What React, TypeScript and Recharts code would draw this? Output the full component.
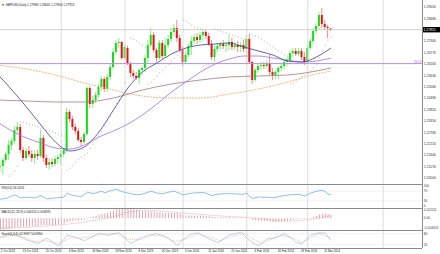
import { Bar, ComposedChart, Line, ReferenceLine, XAxis, YAxis } from "recharts";

// GBPUSD daily, bar 0 = 2 Oct 2023 ... bar 115 = 13 Mar 2024
const opens = [
  1.2190, 1.2105, 1.2110, 1.2140, 1.2170, 1.2215, 1.2235, 1.2290, 1.2305, 1.2190,
  1.2150, 1.2185, 1.2170, 1.2150, 1.2170, 1.2160, 1.2250, 1.2150, 1.2115, 1.2130,
  1.2120, 1.2145, 1.2155, 1.2170, 1.2190, 1.2380, 1.2345, 1.2305, 1.2285, 1.2240,
  1.2230, 1.2270, 1.2500, 1.2420, 1.2440, 1.2465, 1.2505, 1.2545, 1.2495, 1.2555,
  1.2605, 1.2680, 1.2725, 1.2730, 1.2650, 1.2700, 1.2620, 1.2575, 1.2560, 1.2550,
  1.2590, 1.2600, 1.2650, 1.2715, 1.2765, 1.2690, 1.2650, 1.2725, 1.2660, 1.2715,
  1.2745, 1.2780, 1.2800, 1.2750, 1.2690, 1.2630, 1.2665, 1.2710, 1.2735, 1.2755,
  1.2740, 1.2765, 1.2780, 1.2760, 1.2720, 1.2655, 1.2695, 1.2710, 1.2720, 1.2710,
  1.2715, 1.2730, 1.2705, 1.2715, 1.2705, 1.2715, 1.2695, 1.2745, 1.2630, 1.2540,
  1.2590, 1.2610, 1.2615, 1.2610, 1.2625, 1.2580, 1.2565, 1.2580, 1.2600, 1.2610,
  1.2630, 1.2640, 1.2675, 1.2685, 1.2670, 1.2685, 1.2655, 1.2630, 1.2700, 1.2735,
  1.2785, 1.2810, 1.2865, 1.2820, 1.2805, 1.27968,
];
const highs = [
  1.2200, 1.2125, 1.2150, 1.2180, 1.2240, 1.2250, 1.2310, 1.2330, 1.2320, 1.2205,
  1.2200, 1.2210, 1.2190, 1.2190, 1.2190, 1.2290, 1.2265, 1.2165, 1.2150, 1.2150,
  1.2160, 1.2165, 1.2190, 1.2200, 1.2400, 1.2390, 1.2360, 1.2320, 1.2300, 1.2255,
  1.2280, 1.2510, 1.2510, 1.2460, 1.2480, 1.2520, 1.2560, 1.2555, 1.2570, 1.2620,
  1.2700, 1.2740, 1.2750, 1.2735, 1.2715, 1.2710, 1.2630, 1.2590, 1.2580, 1.2600,
  1.2610, 1.2665, 1.2740, 1.2800, 1.2780, 1.2700, 1.2740, 1.2740, 1.2750, 1.2765,
  1.2800, 1.2820, 1.2840, 1.2765, 1.2710, 1.2680, 1.2720, 1.2760, 1.2770, 1.2775,
  1.2780, 1.2795, 1.2790, 1.2775, 1.2740, 1.2710, 1.2725, 1.2730, 1.2740, 1.2730,
  1.2765, 1.2750, 1.2730, 1.2735, 1.2730, 1.2740, 1.2765, 1.2770, 1.2635, 1.2600,
  1.2625, 1.2630, 1.2630, 1.2640, 1.2665, 1.2600, 1.2590, 1.2610, 1.2620, 1.2640,
  1.2655, 1.2690, 1.2700, 1.2700, 1.2700, 1.2700, 1.2680, 1.2715, 1.2750, 1.2800,
  1.2825, 1.2880, 1.2900, 1.2840, 1.2815, 1.28005,
];
const lows = [
  1.2100, 1.2080, 1.2065, 1.2125, 1.2140, 1.2190, 1.2220, 1.2270, 1.2175, 1.2135,
  1.2140, 1.2155, 1.2130, 1.2120, 1.2140, 1.2150, 1.2130, 1.2100, 1.2090, 1.2105,
  1.2110, 1.2120, 1.2115, 1.2155, 1.2180, 1.2330, 1.2290, 1.2270, 1.2230, 1.2210,
  1.2220, 1.2260, 1.2400, 1.2400, 1.2425, 1.2450, 1.2490, 1.2480, 1.2480, 1.2540,
  1.2595, 1.2665, 1.2700, 1.2640, 1.2640, 1.2615, 1.2555, 1.2545, 1.2540, 1.2520,
  1.2560, 1.2580, 1.2620, 1.2705, 1.2680, 1.2630, 1.2640, 1.2645, 1.2650, 1.2700,
  1.2730, 1.2760, 1.2730, 1.2680, 1.2610, 1.2620, 1.2655, 1.2665, 1.2720, 1.2720,
  1.2725, 1.2735, 1.2745, 1.2710, 1.2640, 1.2630, 1.2680, 1.2690, 1.2695, 1.2680,
  1.2690, 1.2690, 1.2690, 1.2680, 1.2680, 1.2680, 1.2670, 1.2620, 1.2520, 1.2530,
  1.2575, 1.2590, 1.2595, 1.2600, 1.2565, 1.2540, 1.2545, 1.2545, 1.2585, 1.2595,
  1.2610, 1.2620, 1.2655, 1.2660, 1.2660, 1.2640, 1.2615, 1.2620, 1.2690, 1.2720,
  1.2770, 1.2795, 1.2800, 1.2790, 1.2750, 1.27856,
];
const closes = [
  1.2105, 1.2110, 1.2140, 1.2170, 1.2215, 1.2235, 1.2290, 1.2305, 1.2190, 1.2150,
  1.2185, 1.2170, 1.2150, 1.2170, 1.2160, 1.2250, 1.2150, 1.2115, 1.2130, 1.2120,
  1.2145, 1.2155, 1.2170, 1.2190, 1.2380, 1.2345, 1.2305, 1.2285, 1.2240, 1.2230,
  1.2270, 1.2500, 1.2420, 1.2440, 1.2465, 1.2505, 1.2545, 1.2495, 1.2555, 1.2605,
  1.2680, 1.2725, 1.2730, 1.2650, 1.2705, 1.2625, 1.2575, 1.2560, 1.2550, 1.2590,
  1.2600, 1.2650, 1.2715, 1.2765, 1.2690, 1.2650, 1.2725, 1.2660, 1.2715, 1.2745,
  1.2780, 1.2800, 1.2750, 1.2690, 1.2630, 1.2665, 1.2710, 1.2735, 1.2755, 1.2740,
  1.2765, 1.2780, 1.2760, 1.2720, 1.2655, 1.2695, 1.2710, 1.2720, 1.2710, 1.2715,
  1.2730, 1.2705, 1.2715, 1.2705, 1.2715, 1.2695, 1.2745, 1.2630, 1.2540, 1.2590,
  1.2610, 1.2615, 1.2610, 1.2625, 1.2580, 1.2565, 1.2580, 1.2600, 1.2610, 1.2630,
  1.2640, 1.2675, 1.2685, 1.2670, 1.2685, 1.2655, 1.2630, 1.2700, 1.2735, 1.2785,
  1.2810, 1.2865, 1.2820, 1.2805, 1.2800, 1.27915,
];

// [bar, value] readings
const parabolicSar: [number, number][] = [
  [4, 1.206], [5, 1.207], [6, 1.2085], [7, 1.211], [8, 1.233], [9, 1.233], [10, 1.2325],
  [11, 1.232], [12, 1.2315], [13, 1.231], [14, 1.2305], [15, 1.23], [16, 1.2295], [17, 1.229],
  [18, 1.2285], [19, 1.228], [20, 1.2275], [21, 1.227], [22, 1.2265], [23, 1.226],
  [24, 1.209], [25, 1.21], [26, 1.2115], [27, 1.213], [28, 1.2145], [29, 1.2155], [30, 1.2165],
  [31, 1.2175], [32, 1.22], [33, 1.222], [34, 1.224], [35, 1.226], [36, 1.2285], [37, 1.231],
  [38, 1.2335], [39, 1.236], [40, 1.239], [41, 1.2425], [42, 1.246], [43, 1.2495], [44, 1.2525],
  [45, 1.2555], [46, 1.275], [47, 1.2745], [48, 1.2735], [49, 1.2725], [50, 1.2715], [51, 1.2705],
  [52, 1.252], [53, 1.253], [54, 1.2545], [55, 1.256], [56, 1.2575], [57, 1.259], [58, 1.2605],
  [59, 1.262], [60, 1.2635], [61, 1.265], [62, 1.2665], [63, 1.268], [64, 1.284], [65, 1.2835],
  [66, 1.2825], [67, 1.2815], [68, 1.2805], [69, 1.28], [70, 1.2795], [71, 1.261], [72, 1.2615],
  [73, 1.262], [74, 1.2625], [75, 1.2795], [76, 1.279], [77, 1.2785], [78, 1.278], [79, 1.2775],
  [80, 1.277], [81, 1.2765], [82, 1.276], [83, 1.2755], [84, 1.275], [85, 1.2745], [86, 1.263],
  [87, 1.277], [88, 1.2765], [89, 1.276], [90, 1.2755], [91, 1.2745], [92, 1.2735], [93, 1.2725],
  [94, 1.2715], [95, 1.2705], [96, 1.2695], [97, 1.2685], [98, 1.2675], [99, 1.2665], [100, 1.266],
  [101, 1.252], [102, 1.2525], [103, 1.2535], [104, 1.2545], [105, 1.2555], [106, 1.2565],
  [107, 1.2575], [108, 1.2585], [109, 1.26], [110, 1.262], [111, 1.265], [112, 1.2685],
  [113, 1.2715], [114, 1.274], [115, 1.2755],
];
const maBlue: [number, number][] = [
  [0, 1.257], [5, 1.249], [10, 1.2405], [15, 1.2315], [20, 1.223], [25, 1.2185], [30, 1.2205],
  [35, 1.228], [40, 1.239], [45, 1.25], [50, 1.258], [55, 1.2625], [60, 1.267], [65, 1.27],
  [70, 1.2715], [75, 1.272], [80, 1.2725], [85, 1.2705], [90, 1.2685], [95, 1.2665], [100, 1.2635],
  [105, 1.263], [110, 1.2655], [115, 1.27],
];
const maViolet: [number, number][] = [
  [0, 1.233], [5, 1.2285], [10, 1.225], [15, 1.2225], [20, 1.22], [25, 1.2195], [30, 1.2215],
  [35, 1.2255], [40, 1.2285], [45, 1.232], [50, 1.2365], [55, 1.242], [60, 1.248], [65, 1.253],
  [70, 1.258], [75, 1.262], [80, 1.2645], [85, 1.266], [90, 1.266], [95, 1.265], [100, 1.264],
  [105, 1.263], [110, 1.2635], [115, 1.265],
];
const maBrown: [number, number][] = [
  [0, 1.244], [10, 1.2435], [20, 1.243], [30, 1.243], [40, 1.245], [50, 1.249], [60, 1.252],
  [70, 1.254], [80, 1.2555], [90, 1.256], [100, 1.2565], [110, 1.2585], [115, 1.26],
];
const maOrange: [number, number][] = [
  [0, 1.2615], [10, 1.2595], [20, 1.2565], [30, 1.2525], [40, 1.249], [50, 1.246], [60, 1.245],
  [70, 1.245], [80, 1.247], [90, 1.2495], [100, 1.253], [110, 1.257], [115, 1.2585],
];

const rsiPoints: [number, number][] = [
  [0, 35], [3, 40], [6, 55], [8, 42], [10, 45], [13, 42], [15, 52], [17, 38], [20, 42], [23, 46],
  [24, 62], [26, 52], [29, 48], [31, 66], [33, 60], [36, 70], [37, 63], [39, 72], [41, 78],
  [43, 68], [45, 62], [48, 55], [50, 58], [53, 70], [55, 62], [57, 60], [59, 66], [61, 70],
  [63, 60], [64, 55], [67, 62], [71, 65], [74, 52], [76, 58], [80, 60], [85, 57], [86, 62],
  [87, 48], [88, 40], [90, 46], [94, 44], [95, 42], [98, 50], [101, 55], [104, 57], [106, 50],
  [108, 62], [110, 70], [112, 74], [113, 68], [114, 58], [115, 56.16],
];
const macdMain = [
  -0.014, -0.0139, -0.0136, -0.0131, -0.0125, -0.0119, -0.0111, -0.0104, -0.0102, -0.0101,
  -0.0098, -0.0096, -0.0095, -0.0093, -0.009, -0.0083, -0.0082, -0.0083, -0.0082, -0.008,
  -0.0077, -0.0074, -0.007, -0.0064, -0.0046, -0.0036, -0.003, -0.0026, -0.0024, -0.0022,
  -0.0017, 0.0003, 0.0012, 0.002, 0.0028, 0.0038, 0.005, 0.0056, 0.0066, 0.0078,
  0.0092, 0.0106, 0.0116, 0.0119, 0.0121, 0.0118, 0.0112, 0.0104, 0.0097, 0.0092,
  0.0086, 0.0082, 0.008, 0.0082, 0.0078, 0.0072, 0.007, 0.0064, 0.0062, 0.006,
  0.006, 0.0061, 0.0058, 0.0052, 0.0043, 0.0036, 0.0033, 0.0031, 0.003, 0.0028,
  0.0028, 0.0028, 0.0027, 0.0024, 0.0016, 0.0013, 0.0012, 0.0011, 0.001, 0.0009,
  0.001, 0.0008, 0.0008, 0.0007, 0.0007, 0.0005, 0.0009, -0.0002, -0.002, -0.0026,
  -0.0029, -0.0031, -0.0032, -0.0032, -0.0036, -0.0041, -0.0043, -0.0042, -0.004, -0.0036,
  -0.0031, -0.0023, -0.0016, -0.0012, -0.0008, -0.0008, -0.0011, -0.0004, 0.0005, 0.0016,
  0.0026, 0.0043, 0.0053, 0.0057, 0.0051, 0.0041,
];
const macdSignal: [number, number][] = [
  [0, -0.012], [10, -0.0108], [20, -0.0085], [30, -0.0045], [40, 0.002], [45, 0.007], [50, 0.0095],
  [55, 0.0088], [60, 0.0072], [65, 0.006], [70, 0.0045], [75, 0.0032], [80, 0.002], [85, 0.0012],
  [90, -0.0002], [95, -0.0025], [100, -0.0035], [105, -0.0025], [110, -0.0005], [115, 0.0031],
];
const stochMain: [number, number][] = [
  [1, 60], [4, 75], [7, 72], [10, 45], [14, 25], [17, 55], [21, 10], [24, 70], [27, 60], [30, 40],
  [35, 82], [38, 70], [42, 85], [46, 25], [50, 60], [52, 70], [55, 80], [59, 55], [62, 15],
  [66, 72], [69, 85], [73, 50], [76, 30], [80, 72], [84, 88], [87, 40], [90, 12], [93, 50],
  [96, 58], [99, 80], [101, 60], [103, 30], [105, 25], [108, 72], [111, 85], [113, 82], [115, 43],
];
const stochSignal: [number, number][] = [
  [1, 55], [5, 70], [9, 60], [13, 35], [17, 40], [21, 25], [25, 55], [29, 55], [33, 65], [37, 78],
  [41, 80], [45, 50], [49, 45], [53, 68], [57, 70], [61, 35], [65, 50], [69, 78], [73, 62],
  [77, 40], [81, 65], [85, 80], [88, 50], [91, 25], [94, 45], [98, 70], [102, 55], [105, 30],
  [108, 55], [111, 80], [115, 55],
];

const dateBars = [0, 9, 17, 25, 33, 41, 49, 57, 65, 73, 81, 89, 97, 105, 113];
const dateLabels = [
  "2 Oct 2023", "13 Oct 2023", "25 Oct 2023", "6 Nov 2023", "16 Nov 2023", "28 Nov 2023",
  "8 Dec 2023", "20 Dec 2023", "3 Jan 2024", "15 Jan 2024", "25 Jan 2024", "6 Feb 2024",
  "16 Feb 2024", "28 Feb 2024", "11 Mar 2024",
];
const gridBars = [22, 44, 64, 86, 107, 133];
const priceTicks = [
  1.2905, 1.2848, 1.2734, 1.2677, 1.262, 1.2563, 1.2506, 1.2449, 1.2392, 1.2335, 1.2278,
  1.2221, 1.2164, 1.2107, 1.205,
];
const lastClose = 1.27915;
const levelPrice = 1.2622;

const SLOTS = 147;
const PLOT_W = SLOTS * 2.9;
const AXIS_W = 18;
const CHART_W = PLOT_W + AXIS_W;
const LEFT = 422 - PLOT_W;
const ZERO = { top: 0, right: 0, bottom: 0, left: 0 };
const FONT = "'Liberation Sans', Arial, sans-serif";

const byBar = (pairs: [number, number][]) => new Map(pairs);
const sarM = byBar(parabolicSar);
const blueM = byBar(maBlue);
const violetM = byBar(maViolet);
const brownM = byBar(maBrown);
const orangeM = byBar(maOrange);
const rsiM = byBar(rsiPoints);
const sigM = byBar(macdSignal);
const kM = byBar(stochMain);
const dM = byBar(stochSignal);

const rows = Array.from({ length: SLOTS }, (_, i) => ({
  i,
  o: opens[i] ?? null,
  h: highs[i] ?? null,
  l: lows[i] ?? null,
  c: closes[i] ?? null,
  sar: sarM.get(i) ?? null,
  blue: blueM.get(i) ?? null,
  violet: violetM.get(i) ?? null,
  brown: brownM.get(i) ?? null,
  orange: orangeM.get(i) ?? null,
  rsi: rsiM.get(i) ?? null,
  macd: macdMain[i] ?? null,
  signal: sigM.get(i) ?? null,
  k: kM.get(i) ?? null,
  d: dM.get(i) ?? null,
}));

function Candle(props: any) {
  const { x, y, width, height, payload } = props;
  if (!payload || payload.o == null) return <g />;
  const { o, h, l, c } = payload;
  const toY = (v: number) => y + ((h - v) / (h - l)) * height;
  const col = c >= o ? "#18dc18" : "#e41414";
  const mid = x + width / 2;
  const t = toY(Math.max(o, c));
  const b = toY(Math.min(o, c));
  return (
    <g>
      <line x1={mid} x2={mid} y1={y} y2={y + height} stroke={col} strokeWidth={0.5} />
      <rect x={x} y={t} width={width} height={Math.max(b - t, 0.7)} fill={col} />
    </g>
  );
}

function SarDot(props: any) {
  const { cx, cy, value } = props;
  if (value == null || cy == null || Number.isNaN(cy)) return <g />;
  return <circle cx={cx} cy={cy} r={0.55} fill="#b89a9a" />;
}

function PriceTick(props: any) {
  const { x, y, payload } = props;
  const v = payload.value;
  if (v === lastClose) {
    return (
      <g>
        <rect x={x} y={y - 2.7} width={AXIS_W} height={5.4} fill="#000" />
        <text x={x + 1.2} y={y + 1.2} fontSize={3.4} fill="#fff" fontFamily={FONT}>{v.toFixed(5)}</text>
      </g>
    );
  }
  return <text x={x + 1.5} y={y + 1.2} fontSize={3.4} fill="#333" fontFamily={FONT}>{v.toFixed(5)}</text>;
}

function SideTick(props: any) {
  const { x, y, payload, fmt, h } = props;
  const ty = Math.min(Math.max(y + 1.2, 3.4), h - 1);
  return <text x={x + 1.5} y={ty} fontSize={3.2} fill="#333" fontFamily={FONT}>{fmt(payload.value)}</text>;
}

function DateTick(props: any) {
  const { x, y, payload } = props;
  const k = dateBars.indexOf(payload.value);
  if (k < 0) return <g />;
  const tx = Math.max(x - 1, 0.5 - LEFT);
  return <text x={tx} y={y + 4} fontSize={2.9} fill="#222" fontFamily={FONT}>{dateLabels[k]}</text>;
}

function LevelLabel(props: any) {
  const { viewBox } = props;
  return (
    <text x={viewBox.x + viewBox.width - 1} y={viewBox.y - 0.8} textAnchor="end" fontSize={3} fill="#9a6fd6" fontFamily={FONT}>
      261.8
    </text>
  );
}

const grid = (key: string) =>
  gridBars.map((b) => <ReferenceLine key={key + b} x={b} stroke="#d4d4d4" strokeWidth={0.8} />);

export default function App() {
  return (
    <div style={{ position: "absolute", left: 0, top: 0, width: 440, height: 254, overflow: "hidden", background: "#fff" }}>
      <div style={{ position: "absolute", left: LEFT, top: 0 }}>
        <ComposedChart width={CHART_W} height={184} data={rows} margin={ZERO} barCategoryGap={0}>
          <XAxis dataKey="i" scale="band" hide />
          <YAxis orientation="right" width={AXIS_W} type="number" domain={[1.202, 1.294]} allowDataOverflow
            ticks={[...priceTicks, lastClose]} interval={0} tick={<PriceTick />} axisLine={false} tickLine={false} tickSize={0} tickMargin={0} />
          {grid("m")}
          <ReferenceLine y={lastClose} stroke="#c4c4c4" strokeWidth={0.8} />
          <ReferenceLine y={levelPrice} stroke="#b88ee8" strokeWidth={1} label={<LevelLabel />} />
          <Bar dataKey={(r: any) => (r.o == null ? null : [r.l, r.h])} shape={<Candle />} barSize={2} isAnimationActive={false} />
          <Line dataKey="orange" stroke="#f4a460" strokeWidth={0.8} strokeDasharray="2 1" dot={false} activeDot={false} connectNulls type="monotone" isAnimationActive={false} />
          <Line dataKey="brown" stroke="#a87878" strokeWidth={0.8} dot={false} activeDot={false} connectNulls type="monotone" isAnimationActive={false} />
          <Line dataKey="violet" stroke="#a070e0" strokeWidth={0.8} dot={false} activeDot={false} connectNulls type="monotone" isAnimationActive={false} />
          <Line dataKey="blue" stroke="#3c3c9c" strokeWidth={0.8} dot={false} activeDot={false} connectNulls type="monotone" isAnimationActive={false} />
          <Line dataKey="sar" stroke="none" dot={<SarDot />} activeDot={false} isAnimationActive={false} />
        </ComposedChart>
      </div>

      <div style={{ position: "absolute", left: LEFT, top: 184 }}>
        <ComposedChart width={CHART_W} height={24} data={rows} margin={ZERO}>
          <XAxis dataKey="i" scale="band" hide />
          <YAxis orientation="right" width={AXIS_W} type="number" domain={[0, 100]} ticks={[100, 70, 30, 0]} interval={0}
            tick={<SideTick fmt={(v: number) => String(v)} h={24} />} axisLine={false} tickLine={false} tickSize={0} tickMargin={0} />
          {grid("r")}
          <ReferenceLine y={70} stroke="#cfcfcf" strokeWidth={0.5} strokeDasharray="1 1" />
          <ReferenceLine y={30} stroke="#cfcfcf" strokeWidth={0.5} strokeDasharray="1 1" />
          <Line dataKey="rsi" stroke="#3f97ea" strokeWidth={0.6} dot={false} activeDot={false} connectNulls isAnimationActive={false} />
        </ComposedChart>
      </div>

      <div style={{ position: "absolute", left: LEFT, top: 208 }}>
        <ComposedChart width={CHART_W} height={22} data={rows} margin={ZERO} barCategoryGap={0}>
          <XAxis dataKey="i" scale="band" hide />
          <YAxis orientation="right" width={AXIS_W} type="number" domain={[-0.014053, 0.012111]} allowDataOverflow
            ticks={[0.012111, 0, -0.014053]} interval={0}
            tick={<SideTick fmt={(v: number) => (v === 0 ? "0.00" : v.toFixed(6))} h={22} />} axisLine={false} tickLine={false} tickSize={0} tickMargin={0} />
          {grid("c")}
          <Bar dataKey="macd" fill="#e2a4ae" barSize={1} isAnimationActive={false} />
          <Line dataKey="signal" stroke="#f07070" strokeWidth={0.6} strokeDasharray="1 1" dot={false} activeDot={false} connectNulls type="monotone" isAnimationActive={false} />
        </ComposedChart>
      </div>

      <div style={{ position: "absolute", left: LEFT, top: 230 }}>
        <ComposedChart width={CHART_W} height={24} data={rows} margin={ZERO}>
          <XAxis dataKey="i" scale="band" height={6} interval={0} tick={<DateTick />} axisLine={false} tickLine={false} tickSize={0} tickMargin={0} />
          <YAxis orientation="right" width={AXIS_W} type="number" domain={[0, 100]} ticks={[80, 20]} interval={0}
            tick={<SideTick fmt={(v: number) => String(v)} h={18} />} axisLine={false} tickLine={false} tickSize={0} tickMargin={0} />
          {grid("s")}
          <ReferenceLine y={80} stroke="#cfcfcf" strokeWidth={0.5} strokeDasharray="1 1" />
          <ReferenceLine y={20} stroke="#cfcfcf" strokeWidth={0.5} strokeDasharray="1 1" />
          <Line dataKey="k" stroke="#6aaed0" strokeWidth={0.5} dot={false} activeDot={false} connectNulls isAnimationActive={false} />
          <Line dataKey="d" stroke="#f08a8a" strokeWidth={0.5} strokeDasharray="1.2 0.8" dot={false} activeDot={false} connectNulls isAnimationActive={false} />
        </ComposedChart>
      </div>

      <svg width={440} height={254} style={{ position: "absolute", left: 0, top: 0, pointerEvents: "none" }} fontFamily={FONT}>
        <line x1={422.5} x2={422.5} y1={0} y2={248} stroke="#8a8a8a" strokeWidth={1} />
        <line x1={0} x2={422} y1={184.5} y2={184.5} stroke="#8a8a8a" strokeWidth={1} />
        <line x1={0} x2={422} y1={208.5} y2={208.5} stroke="#8a8a8a" strokeWidth={1} />
        <line x1={0} x2={422} y1={230.5} y2={230.5} stroke="#8a8a8a" strokeWidth={1} />
        <line x1={0} x2={422} y1={248.5} y2={248.5} stroke="#8a8a8a" strokeWidth={1} />
        <text x={1.5} y={5.5} fontSize={3.1} fill="#222">▼ GBPUSD,Daily  1.27968 1.28005 1.27856 1.27915</text>
        <text x={1.5} y={188.8} fontSize={3.1} fill="#222">RSI(14) 56.1616</text>
        <text x={1.5} y={213} fontSize={3.1} fill="#222">MACD(12,26,9) 0.004132 0.003095</text>
        <text x={1.5} y={234.8} fontSize={3.1} fill="#222">Stoch(5,3,3) 42.9697 54.6960</text>
      </svg>
    </div>
  );
}
